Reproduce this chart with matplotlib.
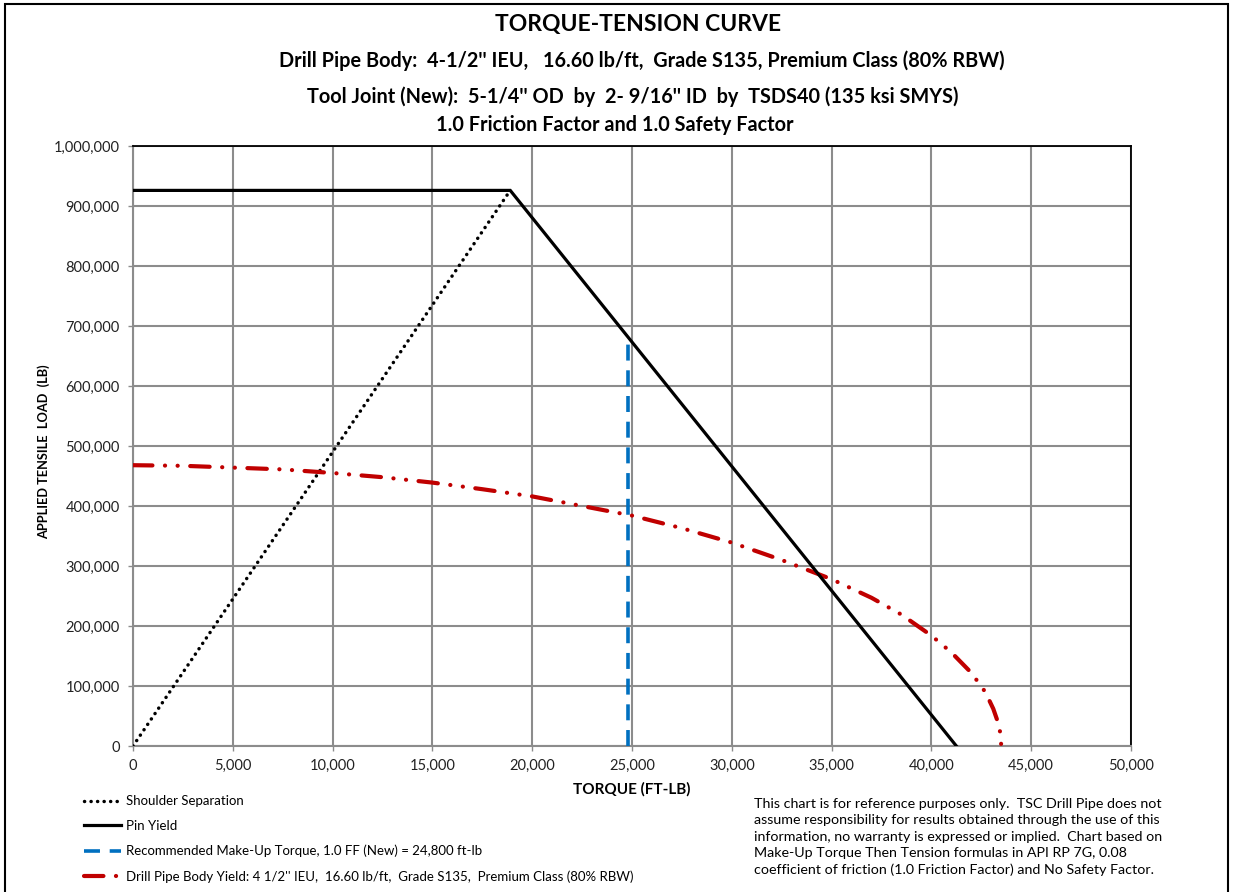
import matplotlib
matplotlib.use("Agg")
import matplotlib.pyplot as plt
import matplotlib.patches as patches
from matplotlib.ticker import FuncFormatter, MultipleLocator

plt.rcParams['font.family'] = ['Lato', 'DejaVu Sans']
plt.rcParams['lines.scale_dashes'] = False

# data (torque ft-lb, tension lb)
shoulder_torque = [0, 18900]
shoulder_load = [0, 926000]

pin_torque = [0, 18900, 41250]
pin_load = [926000, 926000, 0]

makeup_torque = [24800, 24800]
makeup_load = [0, 676000]

body_torque = [0, 2500, 5000, 7500, 10000, 12500, 15000, 17500, 20000, 22500,
               25000, 27500, 30000, 32500, 35000, 37000, 38500, 40000, 41000,
               42000, 42700, 43100, 43350, 43450, 43500]
body_load = [468000, 467000, 464000, 461000, 455000, 448000, 439000, 428000,
             416000, 400000, 384000, 363000, 339000, 310000, 278000, 247000,
             219000, 184000, 156000, 122000, 90000, 62000, 38000, 22000, 0]

title = "TORQUE-TENSION CURVE"
sub1 = "Drill Pipe Body:  4-1/2'' IEU,   16.60 lb/ft,  Grade S135, Premium Class (80% RBW)"
sub2 = "Tool Joint (New):  5-1/4'' OD  by  2- 9/16'' ID  by  TSDS40 (135 ksi SMYS)"
sub3 = "1.0 Friction Factor and 1.0 Safety Factor"

labels = ["Shoulder Separation",
          "Pin Yield",
          "Recommended Make-Up Torque, 1.0 FF (New) = 24,800 ft-lb",
          "Drill Pipe Body Yield: 4 1/2'' IEU,  16.60 lb/ft,  Grade S135,  Premium Class (80% RBW)"]

note = ("This chart is for reference purposes only.  TSC Drill Pipe does not\n"
        "assume responsibility for results obtained through the use of this\n"
        "information, no warranty is expressed or implied.  Chart based on\n"
        "Make-Up Torque Then Tension formulas in API RP 7G, 0.08\n"
        "coefficient of friction (1.0 Friction Factor) and No Safety Factor.")

fig = plt.figure(figsize=(12.33, 8.92), dpi=100)
ax = fig.add_axes([133/1233, 146/892, 998/1233, 600/892])

grey = '#8c8c8c'
red = '#c00000'
blue = '#0070c0'

dot_ls = (0, (0.1, 4.6))
dash_ls = (0, (11.5, 7))
body_ls = (0, (14, 9, 0.1, 9, 0.1, 9))

l1, = ax.plot(shoulder_torque, shoulder_load, color='black', lw=2.5,
              linestyle=dot_ls, dash_capstyle='round', zorder=3)
l2, = ax.plot(pin_torque, pin_load, color='black', lw=2.3, zorder=4,
              solid_joinstyle='miter')
l3, = ax.plot(makeup_torque, makeup_load, color=blue, lw=2.6,
              linestyle=dash_ls, zorder=3)
l4, = ax.plot(body_torque, body_load, color=red, lw=3.0,
              linestyle=body_ls, dash_capstyle='round', zorder=3)

ax.set_xlim(0, 50000)
ax.set_ylim(0, 1000000)
ax.xaxis.set_major_locator(MultipleLocator(5000))
ax.yaxis.set_major_locator(MultipleLocator(100000))
fmt = FuncFormatter(lambda v, p: '{:,.0f}'.format(v))
ax.xaxis.set_major_formatter(fmt)
ax.yaxis.set_major_formatter(fmt)
ax.grid(True, color=grey, lw=1.5, zorder=0)
ax.set_axisbelow(True)
ax.tick_params(axis='both', direction='out', length=3.6, width=1, color=grey,
               labelsize=10.5, labelcolor='#222222')
ax.tick_params(axis='y', pad=6)
ax.tick_params(axis='x', pad=6)
for s in ['left', 'bottom']:
    ax.spines[s].set_color(grey)
    ax.spines[s].set_linewidth(1.5)
for s in ['top', 'right']:
    ax.spines[s].set_color('black')
    ax.spines[s].set_linewidth(1.3)

ax.set_xlabel("TORQUE (FT-LB)", fontsize=11, fontweight='bold', labelpad=6)
ax.set_ylabel("APPLIED TENSILE  LOAD  (LB)", fontsize=9.2, fontweight='bold')
ax.yaxis.set_label_coords(-0.083, 0.49)

fig.text(638/1233, 1 - 25/892, title, ha='center', va='center', fontsize=16.5, fontweight='bold')
fig.text(642/1233, 1 - 61/892, sub1, ha='center', va='center', fontsize=14.3, fontweight='bold')
fig.text(633/1233, 1 - 97/892, sub2, ha='center', va='center', fontsize=14.3, fontweight='bold')
fig.text(615/1233, 1 - 125/892, sub3, ha='center', va='center', fontsize=14.3, fontweight='bold')

fig.legend([l1, l2, l3, l4], labels, loc='upper left',
           bbox_to_anchor=(75/1233, 1 - 786/892), frameon=False, fontsize=9.5,
           handlelength=2.8, handletextpad=0.4, labelspacing=0.97,
           borderpad=0.2)

fig.text(754/1233, 1 - 798/892, note, ha='left', va='top', fontsize=10.3,
         linespacing=1.44)

border = patches.Rectangle((5/1233, -0.02), 1223/1233, 1.02 - 4/892,
                           transform=fig.transFigure, fill=False,
                           edgecolor='black', lw=1.5)
fig.patches.append(border)

fig.savefig('out.png', dpi=100)
